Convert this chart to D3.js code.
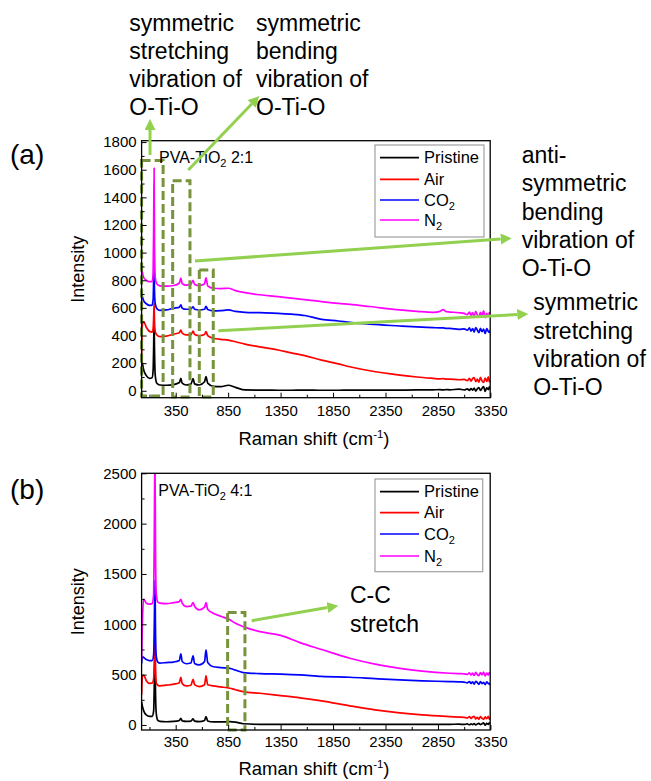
<!DOCTYPE html>
<html><head><meta charset="utf-8">
<script src="https://cdn.jsdelivr.net/npm/d3@7"></script>
<style>
body{margin:0;background:#fff}
svg{display:block}
text{font-family:"Liberation Sans",Arial,Helvetica,sans-serif;fill:#000}
</style>
</head><body>
<svg id="chart" width="651" height="781"></svg>
<script>
// ---------------- DATA ----------------
const seriesNames = ["Pristine", "Air", "CO2", "N2"];

const xTicks = [350, 850, 1350, 1850, 2350, 2850, 3350];
const xMinorTicks = [100, 600, 1100, 1600, 2100, 2600, 3100];

// Panel (a) PVA-TiO2 2:1
const yTicksA = [0, 200, 400, 600, 800, 1000, 1200, 1400, 1600, 1800];
const yMinorA = [100, 300, 500, 700, 900, 1100, 1300, 1500, 1700];
const shiftA = [25, 32, 45, 70, 100, 125, 135, 140, 144, 148, 155, 170, 200, 260, 330, 385, 399, 412, 450, 495, 516, 530, 575, 625, 639, 655, 710, 780, 851, 920, 1010, 1150, 1327, 1450, 1580, 1740, 1900, 2010, 2200, 2486, 2650, 2803, 2870, 2899, 2930, 2962,
  3050, 3100, 3130, 3150, 3165, 3180, 3195, 3210, 3225, 3240, 3255, 3270, 3285, 3300, 3315, 3330, 3340, 3350];
const pristineA = [225, 200, 150, 110, 90, 95, 150, 320, 520, 300, 110, 55, 42, 40, 45, 60, 90, 55, 42, 48, 88, 50, 42, 65, 102, 55, 32, 30, 40, 25, 6, 5, 4, 4, 5, 4, 4, 5, 5, 5, 6, 7, 8, 6, 9, 7,
  12, 6, 14, 3, 16, 5, 20, -2, 14, 24, 2, 18, 30, -4, 22, 8, 28, 10];
const airA = [250, 480, 500, 460, 430, 425, 450, 530, 635, 500, 430, 405, 392, 395, 410, 420, 440, 418, 405, 405, 432, 408, 400, 408, 428, 400, 380, 372, 367, 355, 338, 318, 295, 275, 255, 222, 195, 174, 145, 114, 100, 90, 86, 88, 84, 84,
  80, 82, 74, 90, 70, 88, 96, 66, 84, 62, 98, 72, 60, 92, 68, 100, 64, 82];
const co2A = [700, 680, 650, 630, 618, 620, 660, 800, 925, 720, 630, 595, 582, 585, 598, 605, 622, 598, 590, 592, 608, 590, 585, 590, 612, 588, 578, 580, 585, 575, 568, 565, 561, 555, 545, 517, 505, 495, 482, 469, 462, 457, 455, 456, 452, 452,
  445, 448, 438, 455, 432, 450, 425, 458, 440, 420, 452, 428, 446, 415, 450, 430, 422, 440];
const n2A = [920, 860, 820, 800, 790, 790, 850, 1200, 1612, 1050, 820, 775, 760, 758, 762, 780, 815, 775, 765, 770, 800, 770, 762, 775, 818, 760, 742, 740, 742, 725, 710, 695, 681, 670, 660, 645, 632, 626, 610, 585, 575, 568, 575, 588, 572, 570,
  565, 560, 552, 570, 545, 566, 538, 575, 550, 532, 568, 544, 578, 530, 560, 540, 565, 550];

// Panel (b) PVA-TiO2 4:1
const yTicksB = [0, 500, 1000, 1500, 2000, 2500];
const yMinorB = [250, 750, 1250, 1750, 2250];
const shiftB = [25, 32, 45, 70, 100, 125, 140, 146, 152, 158, 165, 180, 200, 260, 330, 385, 399, 412, 450, 495, 516, 530, 575, 625, 639, 655, 708, 780, 867, 920, 994, 1153, 1350, 1534, 1740, 2010, 2250, 2486, 2700, 2962,
  3050, 3100, 3130, 3150, 3165, 3180, 3195, 3210, 3225, 3240, 3255, 3270, 3285, 3300, 3315, 3330, 3340, 3350];
const pristineB = [230, 190, 140, 100, 85, 85, 140, 400, 720, 300, 110, 45, 35, 32, 35, 45, 66, 40, 35, 38, 60, 38, 33, 45, 83, 40, 30, 30, 33, 28, 12, 6, 5, 5, 5, 5, 5, 5, 6, 6,
  8, 5, 10, 2, 12, 4, 14, 0, 10, 16, 2, 12, 20, -2, 15, 6, 22, 8];
const airB = [300, 480, 495, 440, 414, 415, 460, 620, 850, 560, 420, 395, 388, 395, 405, 420, 474, 410, 388, 395, 454, 400, 381, 400, 487, 400, 388, 378, 365, 350, 331, 315, 292, 270, 240, 190, 150, 120, 100, 83,
  78, 75, 70, 82, 64, 80, 86, 60, 76, 58, 84, 66, 56, 80, 62, 86, 58, 72];
const co2B = [610, 680, 670, 650, 640, 640, 700, 1000, 1440, 900, 680, 625, 615, 620, 625, 640, 706, 630, 608, 615, 686, 610, 596, 630, 745, 620, 578, 570, 563, 545, 520, 510, 505, 497, 482, 474, 460, 447, 438, 431,
  428, 425, 418, 432, 412, 428, 406, 434, 420, 404, 430, 410, 424, 400, 428, 412, 404, 420];
const n2B = [650, 1000, 1250, 1210, 1200, 1205, 1300, 1900, 2700, 1700, 1300, 1220, 1210, 1205, 1215, 1225, 1249, 1210, 1176, 1180, 1216, 1180, 1143, 1170, 1215, 1150, 1110, 1080, 1044, 1010, 977, 927, 890, 818, 750, 663, 605, 563, 535, 514,
  510, 508, 502, 518, 496, 515, 492, 522, 500, 490, 520, 498, 526, 488, 515, 495, 520, 505];

// ---------------- STYLE / LAYOUT ----------------
const colors = ["#000000", "#ff0000", "#0000ff", "#ff00ff"];
const FONT = '"Liberation Sans",Arial,Helvetica,sans-serif';
const arrowColor = "#92d050";
const boxColor = "#77933c";

const svg = d3.select("#chart");
svg.append("rect").attr("width", 651).attr("height", 781).attr("fill", "#fff");

const defs = svg.append("defs");
defs.append("marker").attr("id", "ah")
  .attr("markerUnits", "userSpaceOnUse")
  .attr("markerWidth", 12).attr("markerHeight", 11)
  .attr("refX", 0).attr("refY", 5.5).attr("orient", "auto")
  .append("path").attr("d", "M0,0 L11,5.5 L0,11 Z").attr("fill", arrowColor);

const x = d3.scaleLinear().domain([25, 3348]).range([141.6, 490.2]);
const fmt = d3.format("d");

function labelWithSub(sel, name) {
  const m = name.match(/^([A-Za-z]+)(\d)$/);
  if (m) {
    sel.append("tspan").text(m[1]);
    sel.append("tspan").attr("font-size", 11).attr("dy", 4).text(m[2]);
  } else sel.text(name);
}

function drawPanel(cfg) {
  const y = d3.scaleLinear().domain(cfg.yDomain).range([cfg.bottom, cfg.top]);
  const g = svg.append("g");
  const clipId = "clip" + cfg.id;
  defs.append("clipPath").attr("id", clipId).append("rect")
    .attr("x", x.range()[0]).attr("y", cfg.top)
    .attr("width", x.range()[1] - x.range()[0]).attr("height", cfg.bottom - cfg.top);

  const lineGen = d3.line().x(d => x(d[0])).y(d => y(d[1])).curve(d3.curveMonotoneX);
  const lg = g.append("g").attr("clip-path", `url(#${clipId})`);
  cfg.series.forEach((vals, i) => {
    const pts = cfg.shift.map((s, k) => [s, vals[k]]);
    lg.append("path").datum(pts).attr("d", lineGen)
      .attr("fill", "none").attr("stroke", colors[i]).attr("stroke-width", 1.7)
      .attr("stroke-linejoin", "round");
  });

  cfg.boxes.forEach(b => {
    g.append("rect")
      .attr("x", x(b.x0)).attr("y", y(b.y1))
      .attr("width", x(b.x1) - x(b.x0)).attr("height", y(b.y0) - y(b.y1))
      .attr("fill", "none").attr("stroke", boxColor).attr("stroke-width", 3)
      .attr("stroke-dasharray", "9,4");
  });

  const yAx = g.append("g").attr("transform", `translate(${x.range()[0]},0)`)
    .call(d3.axisLeft(y).tickValues(cfg.yTicks).tickFormat(fmt).tickSizeInner(-5).tickSizeOuter(0).tickPadding(5));
  yAx.select(".domain").remove();
  yAx.selectAll("text").attr("font-size", 15).attr("font-family", FONT);
  const yAxm = g.append("g").attr("transform", `translate(${x.range()[0]},0)`)
    .call(d3.axisLeft(y).tickValues(cfg.yMinor).tickSizeInner(-3).tickSizeOuter(0).tickFormat(""));
  yAxm.select(".domain").remove();

  const xAx = g.append("g").attr("transform", `translate(0,${cfg.bottom})`)
    .call(d3.axisBottom(x).tickValues(xTicks).tickFormat(fmt).tickSizeInner(-5).tickSizeOuter(0).tickPadding(cfg.xPad));
  xAx.select(".domain").remove();
  xAx.selectAll("text").attr("font-size", 15).attr("font-family", FONT);
  const xAxm = g.append("g").attr("transform", `translate(0,${cfg.bottom})`)
    .call(d3.axisBottom(x).tickValues(xMinorTicks).tickSizeInner(-3).tickSizeOuter(0).tickFormat(""));
  xAxm.select(".domain").remove();

  g.append("rect").attr("x", x.range()[0]).attr("y", cfg.top)
    .attr("width", x.range()[1] - x.range()[0]).attr("height", cfg.bottom - cfg.top)
    .attr("fill", "none").attr("stroke", "#000").attr("stroke-width", 1.3);

  const midY = (cfg.top + cfg.bottom) / 2;
  g.append("text").attr("transform", `translate(83.5,${midY}) rotate(-90)`)
    .attr("text-anchor", "middle").attr("font-size", 18).text("Intensity");
  const xt = g.append("text").attr("x", 314).attr("y", cfg.xTitleY)
    .attr("text-anchor", "middle").attr("font-size", 18.5);
  xt.append("tspan").text("Raman shift (cm");
  xt.append("tspan").attr("font-size", 11.5).attr("dy", -7).text("-1");
  xt.append("tspan").attr("dy", 7).text(")");

  g.append("text").attr("x", 10).attr("y", cfg.letterY).attr("font-size", 28).text(cfg.letter);
  const st = g.append("text").attr("x", cfg.sampleX).attr("y", cfg.sampleY).attr("font-size", 16);
  st.append("tspan").text("PVA-TiO");
  st.append("tspan").attr("font-size", 11).attr("dy", 4).text("2");
  st.append("tspan").attr("dy", -4).text(" " + cfg.ratio);

  const L = cfg.legend;
  g.append("rect").attr("x", L.x).attr("y", L.y).attr("width", L.w).attr("height", L.h)
    .attr("fill", "#fff").attr("stroke", "#a0a0a0").attr("stroke-width", 1.2);
  seriesNames.forEach((name, i) => {
    const ry = L.rows[i];
    g.append("line").attr("x1", L.x + 5).attr("x2", L.x + 44).attr("y1", ry).attr("y2", ry)
      .attr("stroke", colors[i]).attr("stroke-width", 1.7);
    const t = g.append("text").attr("x", L.x + 49).attr("y", ry + 5.5).attr("font-size", 16.5);
    labelWithSub(t, name);
  });
  return y;
}

drawPanel({
  id: "a", top: 140.7, bottom: 397.7, yDomain: [-50, 1810],
  yTicks: yTicksA, yMinor: yMinorA, xPad: 7.5, xTitleY: 445,
  shift: shiftA, series: [pristineA, airA, co2A, n2A],
  boxes: [
    {x0: 25, x1: 230, y0: -38, y1: 1666},
    {x0: 321, x1: 486, y0: -45, y1: 1521},
    {x0: 575, x1: 708, y0: -45, y1: 875}
  ],
  letter: "(a)", letterY: 164, sampleX: 159, sampleY: 163.3, ratio: "2:1",
  legend: {x: 375, y: 145, w: 109, h: 92, rows: [157.7, 179.3, 200, 220]}
});

drawPanel({
  id: "b", top: 473.3, bottom: 730, yDomain: [-50, 2500],
  yTicks: yTicksB, yMinor: yMinorB, xPad: 6.7, xTitleY: 775,
  shift: shiftB, series: [pristineB, airB, co2B, n2B],
  boxes: [
    {x0: 845, x1: 1010, y0: -50, y1: 1117}
  ],
  letter: "(b)", letterY: 499, sampleX: 158.3, sampleY: 496, ratio: "4:1",
  legend: {x: 375, y: 479, w: 107.7, h: 92.7, rows: [491.7, 512.7, 534, 556]}
});

// ---------------- ANNOTATIONS ----------------
const arrows = [
  [[150, 155], [150, 119]],
  [[188.3, 170], [259.3, 96]],
  [[195, 261], [511.7, 238.3]],
  [[218.3, 330.7], [528.3, 314]],
  [[251.7, 620.7], [338.3, 605.7]]
];
arrows.forEach(([p0, p1]) => {
  const dx = p1[0] - p0[0], dy = p1[1] - p0[1];
  const len = Math.hypot(dx, dy);
  const ex = p1[0] - dx / len * 11, ey = p1[1] - dy / len * 11;
  svg.append("line").attr("x1", p0[0]).attr("y1", p0[1]).attr("x2", ex).attr("y2", ey)
    .attr("stroke", arrowColor).attr("stroke-width", 3).attr("marker-end", "url(#ah)");
});

const notes = [
  {x: 129.3, y: 30.5, lines: ["symmetric", "stretching", "vibration of", "O-Ti-O"]},
  {x: 256, y: 30.5, lines: ["symmetric", "bending", "vibration of", "O-Ti-O"]},
  {x: 521.7, y: 163.2, lines: ["anti-", "symmetric", "bending", "vibration of", "O-Ti-O"]},
  {x: 533.3, y: 310.4, lines: ["symmetric", "stretching", "vibration of", "O-Ti-O"]},
  {x: 350, y: 603.3, lines: ["C-C", "stretch"]}
];
notes.forEach(n => {
  n.lines.forEach((s, i) => {
    svg.append("text").attr("x", n.x).attr("y", n.y + i * 28.2)
      .attr("font-size", 23).text(s);
  });
});
</script>
</body></html>
